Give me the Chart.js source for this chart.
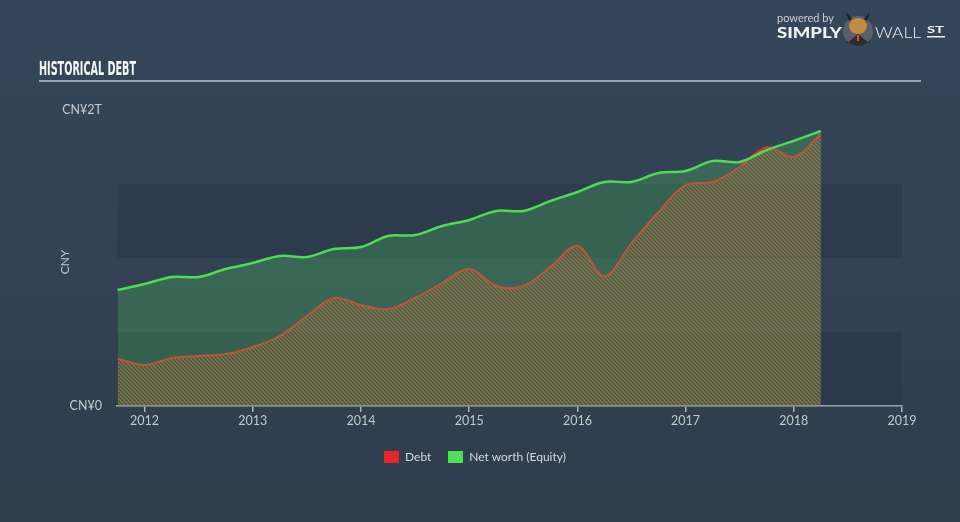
<!DOCTYPE html>
<html>
<head>
<meta charset="utf-8">
<title>Historical Debt</title>
<script src="https://cdn.jsdelivr.net/npm/chart.js@4/dist/chart.umd.min.js"></script>
<style>
  html, body { margin: 0; padding: 0; }
  body {
    width: 960px; height: 522px; overflow: hidden;
    background: linear-gradient(to bottom, #36465a 0%, #2f3d4d 100%);
    font-family: Lato, "Open Sans", sans-serif;
  }
  #wrap { position: relative; width: 960px; height: 522px; }
  #legend {
    position: absolute; left: 384px; top: 449px;
    font-size: 12px; color: #d5d9de; white-space: nowrap;
  }
  #legend span.box {
    display: inline-block; width: 15px; height: 12px; vertical-align: -2px;
  }
  #legend span.txt { margin: 0 17px 0 6px; }
</style>
</head>
<body>
<div id="wrap">
  <canvas id="canvasdebt" width="960" height="522"></canvas>
  <div id="legend">
    <span class="box" style="background:#e8262a"></span><span class="txt">Debt</span><span class="box" style="background:#4fe05a"></span><span class="txt">Net worth (Equity)</span>
  </div>
</div>
<script>
'use strict'

  ////////////////////////////////////////////
 // Daten: Quartalsende, Werte in Mrd. CNY //
////////////////////////////////////////////

const QUARTERS = [
  2011.75, 2012.0, 2012.25, 2012.5, 2012.75,
  2013.0, 2013.25, 2013.5, 2013.75,
  2014.0, 2014.25, 2014.5, 2014.75,
  2015.0, 2015.25, 2015.5, 2015.75,
  2016.0, 2016.25, 2016.5, 2016.75,
  2017.0, 2017.25, 2017.5, 2017.75,
  2018.0, 2018.25
];

const DEBT = [
  318, 277, 324, 338, 351,
  399, 473, 608, 730,
  682, 655, 730, 831,
  926, 811, 811, 939,
  1081, 878, 1101, 1311,
  1493, 1514, 1615, 1750,
  1682, 1838
];

const EQUITY = [
  784, 824, 872, 872, 926,
  966, 1014, 1007, 1061,
  1074, 1149, 1155, 1216,
  1257, 1318, 1318, 1385,
  1446, 1514, 1514, 1574,
  1588, 1655, 1649, 1730,
  1791, 1858
];

const YEAR_TICKS = [2012, 2013, 2014, 2015, 2016, 2017, 2018, 2019];
const Y_TICKS = [0, 500, 1000, 1500, 2000];
const Y_LABELS = { 0: 'CN¥0', 2000: 'CN¥2T' };

const LABEL_COLOR = '#c3c9cf';
const AXIS_COLOR = '#a9b3bd';

  ///////////////////////////////
 // Schraffur für die Schulden //
///////////////////////////////

const makeHatch = () => {
  const c = document.createElement('canvas');
  c.width = 4; c.height = 4;
  const g = c.getContext('2d');
  g.strokeStyle = 'rgba(236,80,44,0.75)';
  g.lineWidth = 1.25;
  g.beginPath();
  g.moveTo(0, 0); g.lineTo(4, 4);
  g.moveTo(-2, 2); g.lineTo(2, 6);
  g.moveTo(2, -2); g.lineTo(6, 2);
  g.stroke();
  return g.createPattern(c, 'repeat');
}

/**
 * schreibt Text und staucht ihn auf die gewünschte Breite
 */
const fitText = (ctx, text, x, y, width) => {
  const w = ctx.measureText(text).width;
  ctx.save();
  ctx.translate(x, y);
  ctx.scale(width / w, 1);
  ctx.fillText(text, 0, 0);
  ctx.restore();
}

  /////////////////////////////////////////
 // Hintergrundstreifen im Diagrammfeld //
/////////////////////////////////////////

const bandPlugin = {
  id: 'bands',
  beforeDatasetsDraw(chart) {
    const { ctx, chartArea, scales } = chart;
    ctx.save();
    ctx.fillStyle = 'rgba(22,32,46,0.17)';
    for (let i = 0; i < Y_TICKS.length - 1; i += 2) {
      const yBottom = scales.y.getPixelForValue(Y_TICKS[i]);
      const yTop = scales.y.getPixelForValue(Y_TICKS[i + 1]);
      ctx.fillRect(chartArea.left, yTop, chartArea.right - chartArea.left, yBottom - yTop);
    }
    ctx.restore();
  }
}

  ///////////////////////////////////////
 // Titel, Logo und Achsenbeschriftung //
///////////////////////////////////////

const decorPlugin = {
  id: 'decor',
  afterDraw(chart) {
    const { ctx } = chart;
    ctx.save();

    // Titel
    ctx.fillStyle = '#f4f6f8';
    ctx.font = 'bold 19px "DejaVu Sans Condensed", "DejaVu Sans"';
    ctx.textBaseline = 'alphabetic';
    fitText(ctx, 'HISTORICAL DEBT', 39, 75, 97);

    ctx.strokeStyle = '#9ea7b1';
    ctx.lineWidth = 2;
    ctx.beginPath();
    ctx.moveTo(39, 81); ctx.lineTo(921, 81);
    ctx.stroke();

    // Achsentitel
    ctx.fillStyle = LABEL_COLOR;
    ctx.font = '12px Lato';
    ctx.textAlign = 'center';
    ctx.textBaseline = 'middle';
    ctx.translate(65, 262);
    ctx.rotate(-Math.PI / 2);
    ctx.fillText('CNY', 0, 0);
    ctx.setTransform(1, 0, 0, 1, 0, 0);

    // Logo
    ctx.textAlign = 'left';
    ctx.textBaseline = 'alphabetic';
    ctx.fillStyle = '#c9ced3';
    ctx.font = '11px Lato';
    fitText(ctx, 'powered by', 777, 22, 57);
    ctx.fillStyle = '#eef0f2';
    ctx.font = '900 15px Lato';
    fitText(ctx, 'SIMPLY', 777, 38, 65);
    ctx.font = '300 15px Lato';
    fitText(ctx, 'WALL', 875, 38, 46);
    ctx.font = 'bold 10px Lato';
    fitText(ctx, 'ST', 927, 33, 17);
    ctx.fillRect(927, 36, 18, 1.5);

    ctx.fillStyle = '#5a6068';
    ctx.beginPath();
    ctx.arc(858, 31, 15, 0, Math.PI * 2);
    ctx.fill();
    ctx.fillStyle = '#2b2d31';
    ctx.beginPath();
    ctx.moveTo(846, 44); ctx.lineTo(858, 34); ctx.lineTo(870, 44);
    ctx.arc(858, 31, 15, Math.PI * 0.22, Math.PI * 0.78);
    ctx.fill();
    ctx.fillStyle = '#c48b3e';
    ctx.beginPath();
    ctx.ellipse(858, 26, 9, 8, 0, 0, Math.PI * 2);
    ctx.fill();
    ctx.fillStyle = '#1f2124';
    ctx.beginPath();
    ctx.moveTo(849, 21); ctx.lineTo(846, 12); ctx.lineTo(852, 19);
    ctx.moveTo(867, 21); ctx.lineTo(870, 12); ctx.lineTo(864, 19);
    ctx.fill();
    ctx.fillStyle = '#e8452a';
    ctx.fillRect(857, 35, 2, 6);

    ctx.restore();
  }
}

  ///////////////////////
 // Diagramm erzeugen //
///////////////////////

const showDebtChart = () => {
  const debtPoints = QUARTERS.map((q, i) => ({ x: q, y: DEBT[i] }));
  const equityPoints = QUARTERS.map((q, i) => ({ x: q, y: EQUITY[i] }));

  new Chart(
    document.getElementById('canvasdebt'),
    {
      type: 'line',
      data: {
        datasets: [
          {
            label: 'Debt',
            data: debtPoints,
            borderColor: '#e8282a',
            borderWidth: 2,
            backgroundColor: makeHatch(),
            fill: 'origin',
            pointRadius: 0,
            tension: 0.35,
            order: 1
          },
          {
            label: 'Net worth (Equity)',
            data: equityPoints,
            borderColor: '#4fdc52',
            borderWidth: 2.5,
            backgroundColor: 'rgba(78,205,92,0.27)',
            fill: 'origin',
            pointRadius: 0,
            tension: 0.35,
            order: 0
          }
        ]
      },
      options: {
        responsive: false,
        animation: false,
        devicePixelRatio: 1,
        layout: { padding: { top: 110, right: 58, bottom: 86, left: 0 } },
        plugins: {
          legend: { display: false },
          tooltip: { enabled: false }
        },
        scales: {
          x: {
            type: 'linear',
            min: 2011.745,
            max: 2019,
            afterBuildTicks: scale => { scale.ticks = YEAR_TICKS.map(v => ({ value: v })); },
            afterFit: scale => { scale.height = 30; },
            ticks: {
              color: LABEL_COLOR,
              font: { family: 'Lato', size: 12.5 },
              padding: 1,
              maxRotation: 0,
              callback: v => String(v)
            },
            grid: {
              display: true,
              drawOnChartArea: false,
              drawTicks: true,
              tickLength: 6,
              color: AXIS_COLOR,
              lineWidth: 1.5
            },
            border: { display: true, color: AXIS_COLOR, width: 1.5 }
          },
          y: {
            min: 0,
            max: 2000,
            afterBuildTicks: scale => { scale.ticks = Y_TICKS.map(v => ({ value: v })); },
            afterFit: scale => { scale.width = 117; },
            ticks: {
              color: LABEL_COLOR,
              font: { family: 'Lato', size: 12.5 },
              padding: 15,
              callback: v => Y_LABELS[v] || ''
            },
            grid: { display: false, drawTicks: false },
            border: { display: false }
          }
        }
      },
      plugins: [bandPlugin, decorPlugin]
    }
  );
}

window.onload = () => {
  showDebtChart();
}
</script>
</body>
</html>
